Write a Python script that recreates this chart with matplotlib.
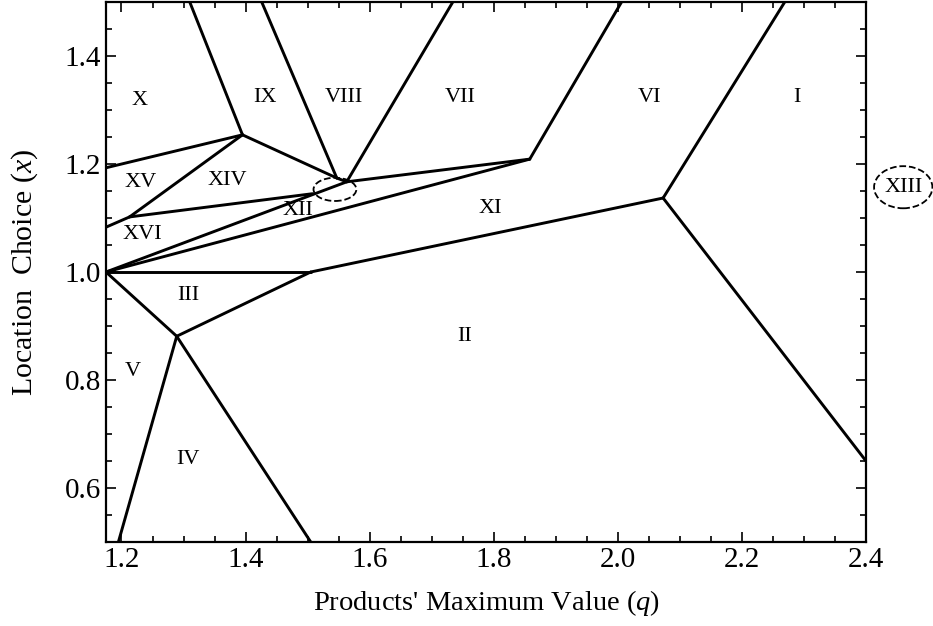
import matplotlib
matplotlib.use("Agg")
import matplotlib.pyplot as plt
from matplotlib.patches import Ellipse
from matplotlib.ticker import MultipleLocator

plt.rcParams['font.family'] = ['Liberation Serif', 'DejaVu Serif']
plt.rcParams['mathtext.fontset'] = 'custom'
plt.rcParams['mathtext.rm'] = 'Liberation Serif'
plt.rcParams['mathtext.it'] = 'Liberation Serif:italic'

# region boundary vertices (q, x)
A = (1.175, 1.0)
B = (1.505, 1.0)
C = (1.289, 0.881)
D = (2.073, 1.137)
E = (1.858, 1.209)
F = (1.563, 1.167)
G = (1.213, 1.102)
H = (1.508, 1.145)
I = (1.395, 1.254)
J = (1.547, 1.174)

# where boundaries leave the plotting box
C_low_left = (1.195, 0.5)
C_low_right = (1.505, 0.5)
D_right = (2.4, 0.65)
D_top = (2.269, 1.5)
E_top = (2.006, 1.5)
F_top = (1.734, 1.5)
J_top = (1.426, 1.5)
I_top = (1.310, 1.5)
left_x_xv = (1.175, 1.193)
left_xv_xvi = (1.175, 1.083)

segments = [
    (A, C), (C, B), (A, B),
    (C, C_low_left), (C, C_low_right),
    (B, D), (D, D_right), (D, D_top),
    (A, E), (E, E_top), (E, F),
    (A, F), (F, F_top), (J, F), (J, J_top), (I, J),
    (I, I_top), (left_x_xv, I), (G, I), (left_xv_xvi, G), (G, H),
]

region_names = ['X', 'IX', 'VIII', 'VII', 'VI', 'I', 'XV', 'XIV', 'XII',
                'XI', 'XVI', 'III', 'II', 'V', 'IV']
region_q = [1.229, 1.432, 1.559, 1.746, 2.051, 2.288, 1.231, 1.370, 1.484,
            1.795, 1.234, 1.307, 1.753, 1.218, 1.307]
region_x = [1.317, 1.324, 1.324, 1.324, 1.324, 1.324, 1.165, 1.170, 1.113,
            1.117, 1.069, 0.957, 0.881, 0.815, 0.652]

fig = plt.figure(figsize=(9.33, 6.26), dpi=100)
ax = fig.add_axes([0.1136, 0.1342, 0.8146, 0.8626])

for p, r in segments:
    ax.plot([p[0], r[0]], [p[1], r[1]], color='black', lw=2.1,
            solid_capstyle='round')

for name, q, x in zip(region_names, region_q, region_x):
    ax.text(q, x, name, ha='center', va='center', fontsize=16)

# tiny region marker and the off-chart XIII label
ax.add_patch(Ellipse((1.544, 1.153), 0.069, 0.043, fill=False, ls='--',
                     lw=1.3, color='black'))
ax.add_patch(Ellipse((2.46, 1.157), 0.094, 0.078, fill=False, ls='--',
                     lw=1.3, color='black', clip_on=False))
ax.text(2.46, 1.157, 'XIII', ha='center', va='center', fontsize=16,
        clip_on=False)

ax.set_xlim(1.175, 2.4)
ax.set_ylim(0.5, 1.5)
ax.xaxis.set_major_locator(MultipleLocator(0.2))
ax.xaxis.set_minor_locator(MultipleLocator(0.05))
ax.yaxis.set_major_locator(MultipleLocator(0.2))
ax.yaxis.set_minor_locator(MultipleLocator(0.05))
ax.tick_params(which='both', direction='in', top=True, right=True,
               labelsize=21, width=1.2)
ax.tick_params(which='major', length=7)
ax.tick_params(which='minor', length=4)
for s in ax.spines.values():
    s.set_linewidth(1.6)

ax.set_xlabel("Products' Maximum Value ($q$)", fontsize=20.5, labelpad=11)
ax.set_ylabel("Location  Choice ($x$)", fontsize=21.5, labelpad=18)

fig.savefig('out.png', dpi=100)
